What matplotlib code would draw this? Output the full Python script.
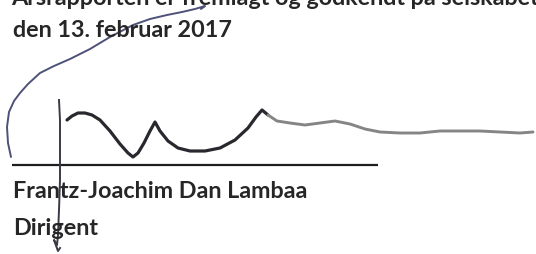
import matplotlib
matplotlib.use("Agg")
import matplotlib.pyplot as plt

# text lines
top_line = "Årsrapporten er fremlagt og godkendt på selskabets ordinære generalforsamling"
date_line = "den 13. februar 2017"
name_line = "Frantz-Joachim Dan Lambaa"
title_line = "Dirigent"

# signature strokes, pixel coords (x, y) of the scanned image
arc_x = [11, 8, 7, 9, 14, 20, 28, 40, 54, 70, 90, 110, 133, 150, 167, 182, 195, 205, 201]
arc_y = [157, 143, 127, 112, 101, 93, 84, 73, 66, 59, 49, 37, 25, 19, 15, 12, 9, 6, 9]

stem_x = [59, 60, 60, 60, 59, 58, 57, 54, 58, 60]
stem_y = [100, 120, 150, 180, 210, 235, 245, 240, 251, 248]

wave_x = [67, 72, 78, 85, 92, 100, 110, 120, 128, 133, 138, 144, 150, 155, 160, 168, 178, 190,
          205, 220, 235, 248, 256, 262, 268, 277, 290, 305, 320, 335, 350, 365, 380, 400,
          420, 440, 460, 480, 500, 520, 533]
wave_y = [120, 116, 113, 113, 115, 120, 131, 144, 153, 157, 153, 143, 131, 122, 131, 141, 148, 151,
          151, 148, 140, 128, 117, 110, 115, 121, 123, 125, 123, 121, 124, 129, 132, 133,
          133, 131, 131, 131, 132, 133, 132]

rule_x = [12, 378]
rule_y = [165, 165]

fig = plt.figure(figsize=(5.36, 2.54), dpi=100)
ax = fig.add_axes([0, 0, 1, 1])
ax.set_xlim(0, 536)
ax.set_ylim(254, 0)
ax.axis("off")

txt = dict(family="Lato", weight="bold", color="#262626", fontsize=16.8, va="baseline")
ax.text(11, 5, top_line, **txt)
ax.text(13, 37, date_line, **txt)
ax.text(13, 198, name_line, **txt)
ax.text(13, 235, title_line, **txt)

ax.plot(rule_x, rule_y, color="#1e1e1e", lw=1.6, solid_capstyle="butt")

ax.plot(arc_x, arc_y, color="#4e5178", lw=1.4, solid_capstyle="round", solid_joinstyle="round")
ax.plot(stem_x, stem_y, color="#3a3a48", lw=1.4, solid_joinstyle="round")
ax.plot(wave_x[:25], wave_y[:25], color="#28282e", lw=2.3, solid_capstyle="round", solid_joinstyle="round")
ax.plot(wave_x[24:], wave_y[24:], color="#858585", lw=2.1, solid_capstyle="round", solid_joinstyle="round")

fig.savefig("out.png", dpi=100)
